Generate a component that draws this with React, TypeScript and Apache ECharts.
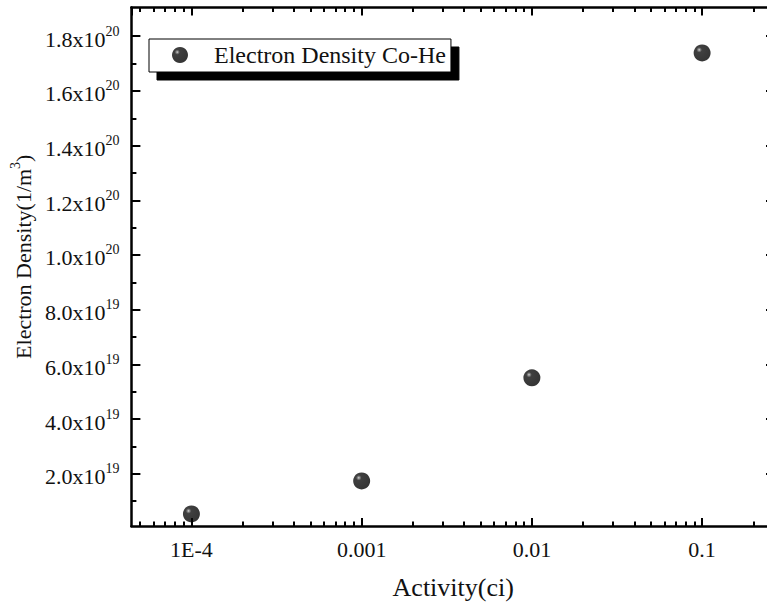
import React, { useEffect, useRef } from "react";
import * as echarts from "echarts";

// ---- data ----
const activity = [1e-4, 1e-3, 1e-2, 1e-1];
const density = [5.3e18, 1.74e19, 5.51e19, 1.739e20];
const seriesName = "Electron Density Co-He";

const xMin = 4.44e-5;
const xMax = 0.268;
const xTickLabels = ["1E-4", "0.001", "0.01", "0.1"]; // for 10^-4 .. 10^-1
const xMinorMultipliers = [2, 3, 4, 5, 6, 7, 8, 9];
const xDecades = [-5, -4, -3, -2, -1];

const yMin = 9e17;
const yMax = 1.905e20;
const yTicks = [2e19, 4e19, 6e19, 8e19, 1e20, 1.2e20, 1.4e20, 1.6e20, 1.8e20];
const yMinorTicks = [1e19, 3e19, 5e19, 7e19, 9e19, 1.1e20, 1.3e20, 1.5e20, 1.7e20];

const FONT = "'Liberation Serif', 'Times New Roman', serif";
const INK = "#111";

function xLabel(v: number): string {
  const l = Math.log10(v);
  const e = Math.round(l);
  if (Math.abs(l - e) > 1e-6) return "";
  const idx = e + 4;
  return xTickLabels[idx] ?? "";
}

function yLabel(v: number): string {
  const e = Math.floor(Math.log10(v) + 1e-9);
  const m = v / Math.pow(10, e);
  return `{b|${m.toFixed(1)}x10}{s|${e}}`;
}

const logMin = Math.log10(xMin);
const logMax = Math.log10(xMax);
const xMinorLog: number[] = [];
xDecades.forEach((d) => {
  xMinorMultipliers.forEach((k) => {
    const v = d + Math.log10(k);
    if (v > logMin && v < logMax) xMinorLog.push(v);
  });
});

export default function App() {
  const ref = useRef<HTMLDivElement>(null);
  useEffect(() => {
    if (!ref.current) return;
    const chart = echarts.init(ref.current, null, { renderer: "svg" });
    const axisLine = { show: true, lineStyle: { color: "#000", width: 2.5 } };
    const majorTickX = { show: true, inside: true, length: 8, lineStyle: { color: "#000", width: 2 } };
    const minorTickX = { show: true, inside: true, length: 4.5, lineStyle: { color: "#000", width: 2 } };
    const option: any = {
      animation: false,
      backgroundColor: "#fff",
      grid: { left: 130, top: 7.5, right: 5, bottom: 81, containLabel: false },
      legend: {
        data: [seriesName],
        left: 149,
        top: 39,
        orient: "horizontal",
        icon: "circle",
        itemWidth: 16,
        itemHeight: 16,
        padding: [4, 5, 5, 23],
        backgroundColor: "#fff",
        borderColor: "#000",
        borderWidth: 1,
        borderRadius: 0,
        shadowColor: "#000",
        shadowBlur: 0,
        shadowOffsetX: 8,
        shadowOffsetY: 8,
        textStyle: { fontFamily: FONT, fontSize: 24, color: INK, padding: [0, 0, 0, 21] },
      },
      xAxis: [
        {
          type: "log",
          logBase: 10,
          min: xMin,
          max: xMax,
          position: "bottom",
          axisLine,
          axisTick: majorTickX,
          splitLine: { show: false },
          axisLabel: {
            formatter: xLabel,
            showMinLabel: false,
            showMaxLabel: false,
            margin: 12,
            fontFamily: FONT,
            fontSize: 22,
            color: INK,
          },
          name: "Activity(ci)",
          nameLocation: "middle",
          nameGap: 48,
          nameTextStyle: { fontFamily: FONT, fontSize: 26, color: INK },
        },
        {
          type: "value",
          min: logMin,
          max: logMax,
          position: "bottom",
          axisLine: { show: false },
          axisTick: { ...minorTickX, customValues: xMinorLog },
          axisLabel: { show: false },
          splitLine: { show: false },
        },
        {
          type: "log",
          logBase: 10,
          min: xMin,
          max: xMax,
          position: "top",
          axisLine,
          axisTick: majorTickX,
          axisLabel: { show: false },
          splitLine: { show: false },
        },
        {
          type: "value",
          min: logMin,
          max: logMax,
          position: "top",
          axisLine: { show: false },
          axisTick: { ...minorTickX, customValues: xMinorLog },
          axisLabel: { show: false },
          splitLine: { show: false },
        },
      ],
      yAxis: [
        {
          type: "value",
          min: yMin,
          max: yMax,
          position: "left",
          axisLine,
          axisTick: { show: true, inside: true, length: 9, customValues: yTicks, lineStyle: { color: "#000", width: 2 } },
          splitLine: { show: false },
          axisLabel: {
            customValues: yTicks,
            formatter: yLabel,
            margin: 12,
            fontFamily: FONT,
            color: INK,
            rich: {
              b: { fontFamily: FONT, fontSize: 22, color: INK, padding: [6, 0, 0, 0] },
              s: { fontFamily: FONT, fontSize: 14, color: INK, padding: [0, 0, 10, 0] },
            },
          },
          name: "{b|Electron Density(1/m}{s|3}{b|)}",
          nameLocation: "middle",
          nameRotate: 90,
          nameGap: 88,
          nameTextStyle: {
            fontFamily: FONT,
            color: INK,
            padding: [0, 0, 0, 20],
            rich: {
              b: { fontFamily: FONT, fontSize: 22, color: INK, padding: [6, 0, 0, 0] },
              s: { fontFamily: FONT, fontSize: 14, color: INK, padding: [0, 0, 10, 0] },
            },
          },
        },
        {
          type: "value",
          min: yMin,
          max: yMax,
          position: "left",
          axisLine: { show: false },
          axisTick: { show: true, inside: true, length: 5, customValues: yMinorTicks, lineStyle: { color: "#000", width: 2 } },
          axisLabel: { show: false },
          splitLine: { show: false },
        },
        {
          type: "value",
          min: yMin,
          max: yMax,
          position: "right",
          axisLine,
          axisTick: { show: true, inside: true, length: 9, customValues: yTicks, lineStyle: { color: "#000", width: 2 } },
          axisLabel: { show: false },
          splitLine: { show: false },
        },
      ],
      series: [
        {
          name: seriesName,
          type: "scatter",
          xAxisIndex: 0,
          yAxisIndex: 0,
          symbol: "circle",
          symbolSize: 17,
          data: activity.map((a, i) => [a, density[i]]),
          itemStyle: {
            color: {
              type: "radial",
              x: 0.33,
              y: 0.32,
              r: 0.8,
              colorStops: [
                { offset: 0, color: "#d0d0d0" },
                { offset: 0.08, color: "#6e6e6e" },
                { offset: 0.2, color: "#101010" },
                { offset: 1, color: "#000" },
              ],
            },
          },
        },
      ],
    };
    chart.setOption(option);
    return () => chart.dispose();
  }, []);
  return (
    <div
      ref={ref}
      style={{ position: "fixed", left: 0, top: 0, width: 780, height: 607 }}
    />
  );
}
